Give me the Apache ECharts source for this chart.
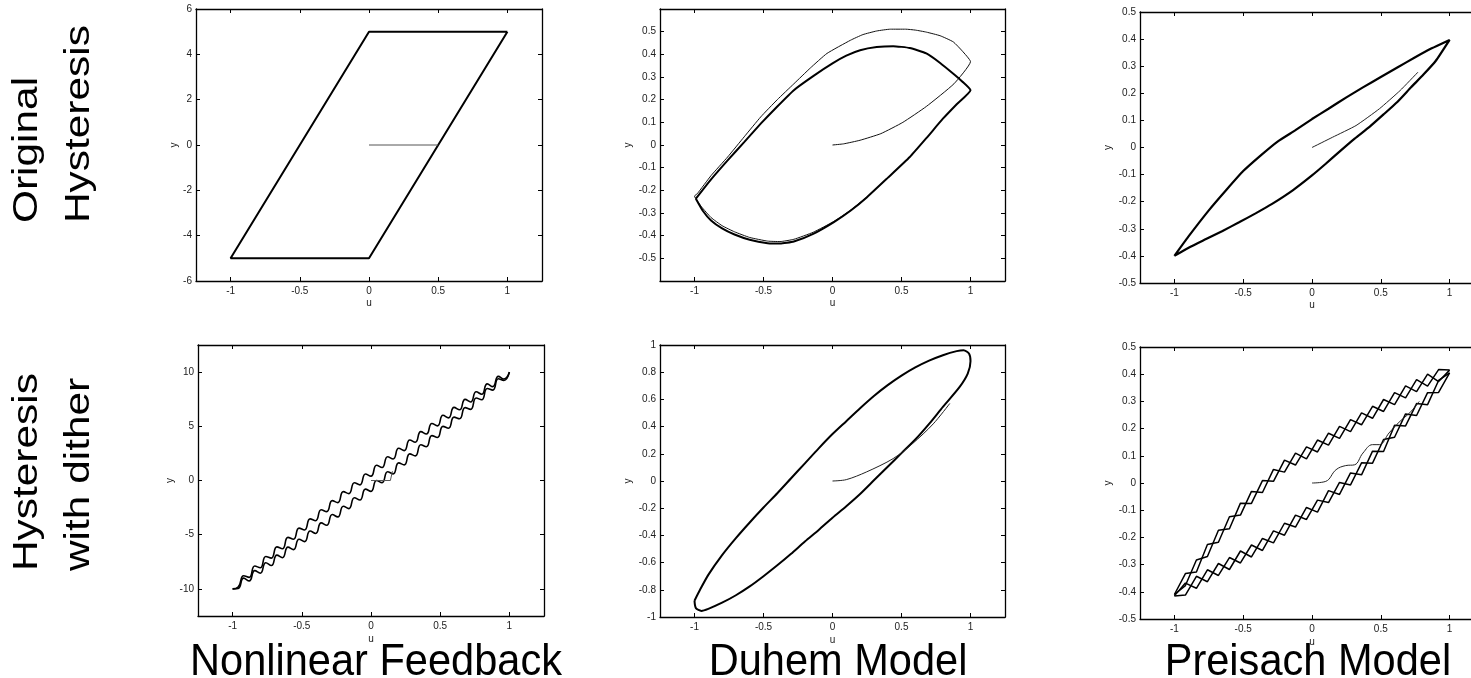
<!DOCTYPE html>
<html>
<head>
<meta charset="utf-8">
<script src="https://cdn.jsdelivr.net/npm/echarts@6/dist/echarts.min.js"></script>
<style>
  html, body { margin: 0; padding: 0; background: #fff; }
  #chart { width: 1471px; height: 678px; }
</style>
</head>
<body>
<div id="chart"></div>
<script>
// tick labels
const uTicks = [-1, -0.5, 0, 0.5, 1];
const nfYTicks = [-6, -4, -2, 0, 2, 4, 6];
const duYTicks = [-0.5, -0.4, -0.3, -0.2, -0.1, 0, 0.1, 0.2, 0.3, 0.4, 0.5];
const prYTicks = [-0.5, -0.4, -0.3, -0.2, -0.1, 0, 0.1, 0.2, 0.3, 0.4, 0.5];
const nfdYTicks = [-10, -5, 0, 5, 10];
const dudYTicks = [-1, -0.8, -0.6, -0.4, -0.2, 0, 0.2, 0.4, 0.6, 0.8, 1];

const rowNames = [["Original", "Hysteresis"], ["Hysteresis", "with dither"]];
const colNames = ["Nonlinear Feedback", "Duhem Model", "Preisach Model"];

// nonlinear feedback, original
const nfLoopU = [1, 0, -1, 0, 1];
const nfLoopY = [5, 5, -5, -5, 5];
const nfStartU = [0, 0.5];
const nfStartY = [0, 0];

// duhem, original : first cycle (thin) and steady loop
const duFirstU = [0, 0.08, 0.2, 0.35, 0.51, 0.68, 0.88, 1.0, 0.94, 0.875, 0.78, 0.68, 0.6, 0.53, 0.42, 0.32, 0.22, 0.13, -0.04, -0.16, -0.28, -0.4, -0.52, -0.64, -0.76, -0.88, -0.98, -1.0,
  -0.95, -0.88, -0.8, -0.71, -0.6, -0.47, -0.38, -0.28, -0.14, 0.01, 0.13, 0.25];
const duFirstY = [0, 0.005, 0.021, 0.05, 0.10, 0.17, 0.27, 0.368, 0.415, 0.455, 0.482, 0.498, 0.507, 0.511, 0.511, 0.503, 0.487, 0.462, 0.404, 0.34, 0.27, 0.2, 0.124, 0.036, -0.053, -0.135, -0.215, -0.225,
  -0.272, -0.32, -0.356, -0.383, -0.408, -0.424, -0.426, -0.416, -0.385, -0.337, -0.288, -0.229];
const duLoopU = [-0.99, -0.94, -0.88, -0.8, -0.71, -0.6, -0.47, -0.38, -0.28, -0.14, 0.01, 0.13, 0.25, 0.4, 0.56, 0.68, 0.8, 0.9, 1.0,
  0.94, 0.88, 0.78, 0.68, 0.56, 0.44, 0.32, 0.2, 0.1, 0.0, -0.14, -0.28, -0.4, -0.52, -0.64, -0.76, -0.88, -0.99];
const duLoopY = [-0.237, -0.29, -0.333, -0.368, -0.395, -0.418, -0.433, -0.435, -0.426, -0.392, -0.34, -0.29, -0.23, -0.145, -0.053, 0.03, 0.116, 0.18, 0.242,
  0.28, 0.312, 0.362, 0.404, 0.428, 0.436, 0.432, 0.418, 0.394, 0.36, 0.304, 0.242, 0.17, 0.094, 0.013, -0.068, -0.152, -0.237];

// preisach, original
const prLoopU = [-1, -0.9, -0.75, -0.62, -0.5, -0.37, -0.25, -0.12, 0, 0.12, 0.25, 0.37, 0.5, 0.62, 0.75, 0.87, 1.0,
  0.9, 0.81, 0.72, 0.62, 0.52, 0.42, 0.31, 0.2, 0.1, 0, -0.14, -0.29, -0.41, -0.53, -0.65, -0.77, -0.89, -1];
const prLoopY = [-0.40, -0.33, -0.232, -0.155, -0.087, -0.028, 0.022, 0.064, 0.105, 0.143, 0.185, 0.222, 0.26, 0.295, 0.333, 0.366, 0.397,
  0.32, 0.269, 0.222, 0.168, 0.122, 0.077, 0.033, -0.015, -0.06, -0.103, -0.158, -0.208, -0.243, -0.276, -0.308, -0.338, -0.368, -0.40];
const prStartU = [0, 0.15, 0.32, 0.49, 0.64, 0.77];
const prStartY = [0, 0.038, 0.081, 0.143, 0.21, 0.278];

// nonlinear feedback, with dither : two wavy branches
const nfdU = [-1, -0.96, -0.92, -0.88, -0.84, -0.8, -0.76, -0.72, -0.68, -0.64, -0.6, -0.56, -0.52, -0.48, -0.44, -0.4, -0.36,
  -0.32, -0.28, -0.24, -0.2, -0.16, -0.12, -0.08, -0.04, 0, 0.04, 0.08, 0.12, 0.16, 0.2, 0.24, 0.28, 0.32, 0.36, 0.4,
  0.44, 0.48, 0.52, 0.56, 0.6, 0.64, 0.68, 0.72, 0.76, 0.8, 0.84, 0.88, 0.92, 0.96, 1];
const nfdUpperY = [-10, -9.84, -8.79, -8.94, -7.89, -8.05, -7.01, -7.16, -6.12, -6.29, -5.25, -5.42, -4.39, -4.57, -3.54, -3.71, -2.70,
  -2.87, -1.86, -2.04, -1.03, -1.21, -0.21, -0.40, 0.60, 0.40, 1.40, 1.20, 2.19, 1.99, 2.97, 2.76, 3.74, 3.53, 4.51, 4.29,
  5.26, 5.04, 6.02, 5.78, 6.75, 6.52, 7.48, 7.24, 8.19, 7.95, 8.91, 8.66, 9.61, 9.36, 10];
const nfdLowerY = [-10, -9.96, -9.01, -9.26, -8.31, -8.55, -7.59, -7.84, -6.88, -7.12, -6.15, -6.38, -5.42, -5.64, -4.66, -4.89, -3.91,
  -4.13, -3.14, -3.36, -2.37, -2.59, -1.59, -1.80, -0.80, -1.00, 0.00, -0.20, 0.81, 0.61, 1.63, 1.44, 2.46, 2.27, 3.30, 3.11,
  4.14, 3.97, 4.99, 4.82, 5.85, 5.69, 6.72, 6.56, 7.61, 7.45, 8.49, 8.34, 9.39, 9.24, 10];
const nfdStartU = [0, 0.14, 0.155];
const nfdStartY = [0, 0, 0.86];

// duhem, with dither
const dudLoopU = [-1.0, -0.96, -0.9, -0.8, -0.7, -0.6, -0.5, -0.4, -0.3, -0.2, -0.1, 0, 0.1, 0.2, 0.3, 0.4, 0.5, 0.6, 0.7, 0.8, 0.9, 0.95, 0.99, 1.0,
  0.98, 0.92, 0.8, 0.7, 0.6, 0.5, 0.4, 0.3, 0.2, 0.1, 0, -0.1, -0.2, -0.3, -0.4, -0.5, -0.6, -0.7, -0.8, -0.9, -0.95, -0.99, -1.0];
const dudLoopY = [-0.88, -0.80, -0.69, -0.545, -0.42, -0.305, -0.195, -0.09, 0.02, 0.13, 0.24, 0.345, 0.44, 0.535, 0.625, 0.705, 0.775, 0.835, 0.885, 0.925, 0.955, 0.962, 0.935, 0.88,
  0.79, 0.69, 0.545, 0.42, 0.305, 0.205, 0.105, 0.005, -0.095, -0.185, -0.27, -0.36, -0.445, -0.535, -0.62, -0.7, -0.775, -0.84, -0.895, -0.94, -0.955, -0.935, -0.88];
const dudStartU = [0, 0.1, 0.245, 0.44, 0.58, 0.73, 0.85];
const dudStartY = [0, 0.01, 0.066, 0.165, 0.275, 0.42, 0.57];

// preisach, with dither : two crossing strands per branch
const prdU = [-1, -0.92, -0.84, -0.76, -0.68, -0.6, -0.52, -0.44, -0.36, -0.28, -0.2, -0.12, -0.04,
  0.04, 0.12, 0.2, 0.28, 0.36, 0.44, 0.52, 0.6, 0.68, 0.76, 0.84, 0.92, 1];
const prdUpperA = [-0.41, -0.377, -0.283, -0.270, -0.174, -0.168, -0.074, -0.075, 0.009, 0.006, 0.084, 0.066, 0.133,
  0.114, 0.183, 0.164, 0.233, 0.214, 0.282, 0.263, 0.332, 0.313, 0.380, 0.356, 0.417, 0.415];
const prdUpperB = [-0.41, -0.333, -0.327, -0.226, -0.218, -0.124, -0.118, -0.031, -0.035, 0.050, 0.040, 0.110, 0.089,
  0.158, 0.139, 0.208, 0.189, 0.258, 0.238, 0.307, 0.288, 0.357, 0.336, 0.400, 0.373, 0.415];
const prdLowerA = [-0.415, -0.412, -0.343, -0.363, -0.296, -0.318, -0.250, -0.272, -0.204, -0.220, -0.148, -0.162, -0.090,
  -0.107, -0.028, -0.042, 0.037, 0.030, 0.117, 0.116, 0.212, 0.210, 0.292, 0.288, 0.377, 0.405];
const prdLowerB = [-0.415, -0.368, -0.387, -0.319, -0.340, -0.274, -0.294, -0.228, -0.248, -0.176, -0.192, -0.118, -0.134,
  -0.063, -0.072, 0.002, -0.007, 0.074, 0.073, 0.160, 0.168, 0.254, 0.248, 0.332, 0.333, 0.405];
const prdStartU = [0, 0.1, 0.175, 0.245, 0.31, 0.37, 0.44, 0.49, 0.56, 0.64, 0.71, 0.78];
const prdStartY = [0, 0.006, 0.049, 0.064, 0.067, 0.11, 0.141, 0.141, 0.184, 0.227, 0.258, 0.3];

const FONT = '"Liberation Sans", Arial, Helvetica, sans-serif';

const panels = [
  { left: 196, top: 9, width: 346, height: 272, yMin: -6, yMax: 6, yTicks: nfYTicks, yGap: 17, xGap: 17 },
  { left: 660, top: 9, width: 345, height: 272, yMin: -0.6, yMax: 0.6, yTicks: duYTicks, yGap: 27, xGap: 17 },
  { left: 1140, top: 12, width: 344, height: 271, yMin: -0.5, yMax: 0.5, yTicks: prYTicks, yGap: 27, xGap: 17 },
  { left: 198, top: 345, width: 346, height: 271, yMin: -12.5, yMax: 12.5, yTicks: nfdYTicks, yGap: 22, xGap: 18 },
  { left: 660, top: 345, width: 345, height: 272, yMin: -1, yMax: 1, yTicks: dudYTicks, yGap: 27, xGap: 18 },
  { left: 1140, top: 347, width: 344, height: 272, yMin: -0.5, yMax: 0.5, yTicks: prYTicks, yGap: 27, xGap: 18 }
];

function pts(us, ys) {
  return us.map((u, i) => [u, ys[i]]);
}

function fmt(v) {
  return String(+v.toFixed(2));
}

let grids = [], xAxes = [], yAxes = [];
panels.forEach((p, i) => {
  grids.push({ left: p.left, top: p.top, width: p.width, height: p.height, containLabel: false, outerBoundsMode: 'none' });
  ['bottom', 'top'].forEach((pos, k) => {
    xAxes.push({
      gridIndex: i, type: 'value', position: pos, min: -1.25, max: 1.25,
      axisLine: { show: true, onZero: false, lineStyle: { color: '#000', width: 1.3 } },
      axisTick: { show: true, inside: true, length: 4, customValues: uTicks, lineStyle: { color: '#000' } },
      axisLabel: { show: k === 0, customValues: uTicks, formatter: fmt, fontSize: 10, color: '#222', margin: 5, fontFamily: FONT },
      splitLine: { show: false },
      name: k === 0 ? 'u' : '', nameLocation: 'middle', nameGap: p.xGap,
      nameTextStyle: { fontSize: 10, color: '#222', fontFamily: FONT }
    });
  });
  ['left', 'right'].forEach((pos, k) => {
    yAxes.push({
      gridIndex: i, type: 'value', position: pos, min: p.yMin, max: p.yMax,
      axisLine: { show: true, onZero: false, lineStyle: { color: '#000', width: 1.3 } },
      axisTick: { show: true, inside: true, length: 4, customValues: p.yTicks, lineStyle: { color: '#000' } },
      axisLabel: { show: k === 0, customValues: p.yTicks, formatter: fmt, fontSize: 10, color: '#222', margin: 4, fontFamily: FONT },
      splitLine: { show: false },
      name: k === 0 ? 'y' : '', nameLocation: 'middle', nameGap: p.yGap,
      nameTextStyle: { fontSize: 10, color: '#222', fontFamily: FONT }
    });
  });
});

function line(i, us, ys, width, color, smooth) {
  return {
    type: 'line', xAxisIndex: i * 2, yAxisIndex: i * 2,
    data: pts(us, ys), symbol: 'none', showSymbol: false, smooth: smooth || false,
    lineStyle: { width: width, color: color }, silent: true
  };
}

const series = [
  line(0, nfLoopU, nfLoopY, 2, '#000'),
  line(0, nfStartU, nfStartY, 1, '#555'),
  line(1, duFirstU, duFirstY, 1, '#111', 0.15),
  line(1, duLoopU, duLoopY, 2, '#000', 0.15),
  line(2, prLoopU, prLoopY, 2.2, '#000', 0.15),
  line(2, prStartU, prStartY, 1, '#222', 0.15),
  line(3, nfdU, nfdUpperY, 1.6, '#000', 0.5),
  line(3, nfdU, nfdLowerY, 1.6, '#000', 0.5),
  line(3, nfdStartU, nfdStartY, 1, '#555'),
  line(4, dudLoopU, dudLoopY, 2, '#000', 0.25),
  line(4, dudStartU, dudStartY, 1, '#222', 0.3),
  line(5, prdU, prdUpperA, 1.5, '#000'),
  line(5, prdU, prdUpperB, 1.5, '#000'),
  line(5, prdU, prdLowerA, 1.5, '#000'),
  line(5, prdU, prdLowerB, 1.5, '#000'),
  line(5, prdStartU, prdStartY, 1, '#222', 0.4)
];

// big row / column captions, squeezed a little like the original figure
function rowText(text, x, y) {
  return {
    type: 'text', x: x, y: y, rotation: Math.PI / 2, scaleY: 0.815, silent: true,
    style: { text: text, font: '42.4px ' + FONT, fill: '#000', textAlign: 'left', align: 'left', textVerticalAlign: 'top', verticalAlign: 'top' }
  };
}
function colText(text, x) {
  return {
    type: 'text', x: x, y: 640, scaleX: 0.93, silent: true,
    style: { text: text, font: '44.7px ' + FONT, fill: '#000', textAlign: 'left', align: 'left', textVerticalAlign: 'top', verticalAlign: 'top' }
  };
}

const graphic = [
  rowText(rowNames[0][0], 10.5, 223),
  rowText(rowNames[0][1], 62.5, 223),
  rowText(rowNames[1][0], 10.5, 571),
  rowText(rowNames[1][1], 62.5, 571),
  colText(colNames[0], 190),
  colText(colNames[1], 708.7),
  colText(colNames[2], 1164.7)
];

const option = {
  animation: false,
  backgroundColor: '#fff',
  textStyle: { fontFamily: FONT },
  grid: grids,
  xAxis: xAxes,
  yAxis: yAxes,
  series: series,
  graphic: graphic
};

const myChart = echarts.init(document.getElementById('chart'));
myChart.setOption(option);
</script>
</body>
</html>
